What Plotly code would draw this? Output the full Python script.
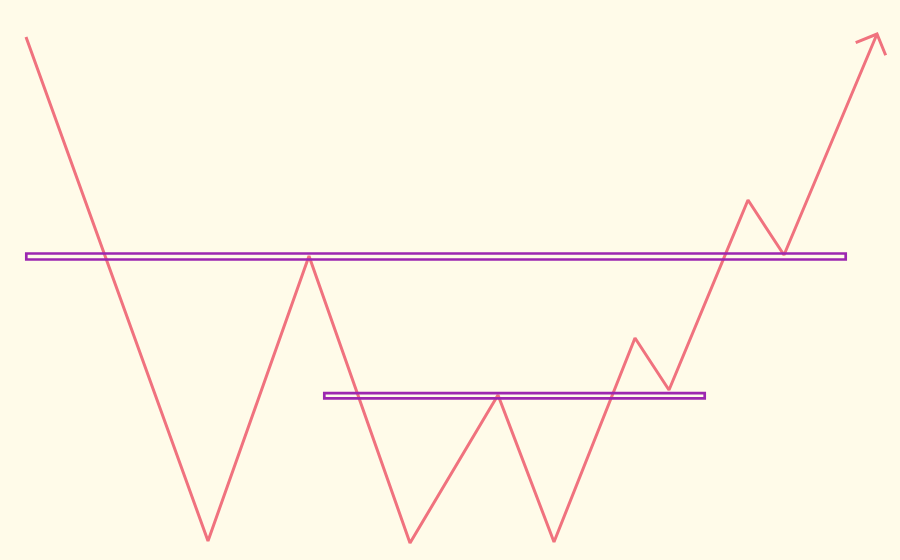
import math
import plotly.graph_objects as go

# Path of the zig-zag (x position, level value)
path_x = [26, 208, 309, 410, 498, 554, 635, 669, 748, 784, 877]
path_y = [523, 19, 304, 17, 165, 18, 222, 170, 360, 305, 526]

# Horizontal levels: (start x, end x, center level, half thickness)
level_x0 = [26.3, 324.3]
level_x1 = [845.7, 704.7]
level_c = [303.5, 164.2]
level_h = [3.0, 2.6]

LINE = "rgb(240,114,126)"
PURPLE = "rgb(156,39,176)"
BG = "rgb(255,251,233)"

fig = go.Figure()
fig.add_trace(go.Scatter(
    x=path_x, y=path_y, mode="lines",
    line=dict(color=LINE, width=3),
    cliponaxis=False, hoverinfo="skip", showlegend=False,
))

# Arrowhead: two wings derived from the direction of the last segment
tx, ty = path_x[-1], path_y[-1]
dx, dy = path_x[-2] - tx, path_y[-2] - ty
L = math.hypot(dx, dy)
bx, by = dx / L, dy / L
wing = 23
a = math.radians(45)
w1 = (tx + wing * (bx * math.cos(a) - by * math.sin(a)), ty + wing * (bx * math.sin(a) + by * math.cos(a)))
w2 = (tx + wing * (bx * math.cos(a) + by * math.sin(a)), ty + wing * (-bx * math.sin(a) + by * math.cos(a)))
fig.add_trace(go.Scatter(
    x=[w1[0], tx, w2[0]], y=[w1[1], ty, w2[1]], mode="lines",
    line=dict(color=LINE, width=3),
    cliponaxis=False, hoverinfo="skip", showlegend=False,
))

for x0, x1, c, h in zip(level_x0, level_x1, level_c, level_h):
    fig.add_shape(type="rect", xref="x", yref="y", x0=x0, x1=x1, y0=c - h, y1=c + h,
                  line=dict(color=PURPLE, width=2.7), fillcolor="rgba(0,0,0,0)", layer="above")

fig.update_layout(
    width=900, height=560,
    margin=dict(l=0, r=0, t=0, b=0),
    paper_bgcolor=BG, plot_bgcolor=BG,
    xaxis=dict(range=[0, 900], visible=False, fixedrange=True),
    yaxis=dict(range=[0, 560], visible=False, fixedrange=True),
)
fig.write_html("out.html", config={"displayModeBar": False})

with open("out.html", "r", encoding="utf-8") as f:
    html = f.read()
html = html.replace("<body>", '<body style="margin:0;padding:0;background:rgb(255,251,233);">', 1)
with open("out.html", "w", encoding="utf-8") as f:
    f.write(html)
